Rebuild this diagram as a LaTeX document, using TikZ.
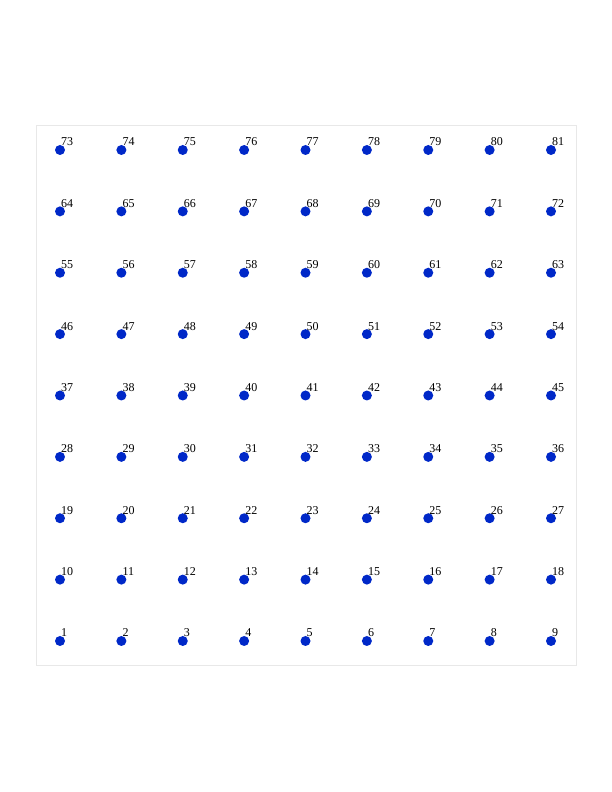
\documentclass[tikz,border=0pt]{standalone}
\usepackage{fontspec}
\setmainfont{Liberation Serif}
\definecolor{dotblue}{HTML}{0028C8}
\definecolor{framegray}{HTML}{E8E8E8}
\tikzset{
  dotpt/.style={circle,fill=dotblue,inner sep=0pt,minimum size=10pt},
  numlabel/.style={anchor=base west,inner sep=0pt,font=\fontsize{12pt}{14pt}\selectfont}
}
\begin{document}
\begin{tikzpicture}[x=1pt,y=1pt]
\useasboundingbox (0,0) rectangle (612,792);
\draw[framegray,line width=1pt] (36,126) rectangle (576,666);
\foreach \j in {0,...,8}{
  \foreach \i in {0,...,8}{
    \pgfmathtruncatemacro{\n}{\j*9+\i+1}
    \pgfmathsetmacro{\px}{60+61.375*\i}
    \pgfmathsetmacro{\py}{792-641+61.375*\j}
    \node[dotpt] (p\n) at (\px,\py) {};
    \node[numlabel] (l\n) at ([xshift=1pt,yshift=4pt]p\n.center) {\n};
  }
}
\end{tikzpicture}
\end{document}
